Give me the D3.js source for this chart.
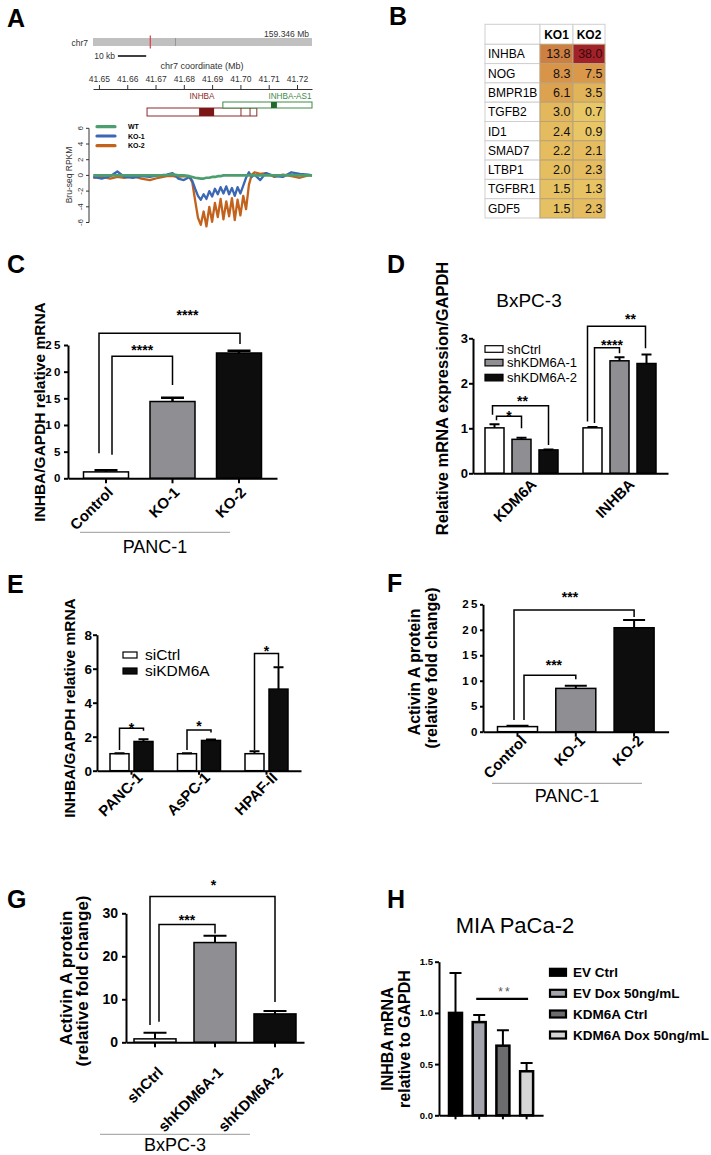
<!DOCTYPE html>
<html>
<head>
<meta charset="utf-8">
<script src="https://cdn.jsdelivr.net/npm/d3@7"></script>
<style>
  body { margin: 0; background: #fff; }
  svg text { font-family: "Liberation Sans", Arial, sans-serif; }
</style>
</head>
<body>
<svg id="fig" width="711" height="1155"></svg>
<script>
// ---------- A: Bru-seq around INHBA ----------
var aTicks = [41.65, 41.66, 41.67, 41.68, 41.69, 41.70, 41.71, 41.72];
var aPos = [41.648, 41.651, 41.654, 41.6565, 41.659, 41.662, 41.665, 41.668, 41.671, 41.674, 41.676, 41.678, 41.680, 41.682,
  41.683, 41.684, 41.685, 41.686, 41.687, 41.688, 41.689, 41.690, 41.691, 41.692, 41.693, 41.694, 41.695, 41.696,
  41.697, 41.698, 41.699, 41.700, 41.701, 41.702, 41.703, 41.704, 41.705,
  41.707, 41.709, 41.712, 41.715, 41.718, 41.721, 41.724, 41.7253];
var aWT = [0, 0, 0, 0, 0, 0, 0, 0, 0, 0.05, 0.15, 0, 0, -0.1,
  -0.2, -0.3, -0.35, -0.4, -0.4, -0.3, -0.3, -0.2, -0.2, -0.1, -0.1, 0, 0, 0, 0, 0, 0, 0, 0, 0, 0, 0, 0,
  0, 0, 0, 0, 0.05, 0, 0, 0];
var aKO1 = [-0.2, -0.4, -0.1, 0.5, -0.2, -0.3, -0.1, -0.2, 0.0, 0.1, 0.3, -0.4, -0.6, -0.2,
  -0.7, -1.7, -2.6, -3.1, -2.4, -3.0, -2.0, -2.7, -1.7, -2.4, -1.5, -2.3, -1.4, -2.4, -1.6, -2.6, -1.5, -2.3, -1.3, -0.3, 0.4, -0.2, 0.1,
  -0.6, 0.3, -0.1, -0.2, 0.4, 0.2, 0.1, 0];
var aKO2 = [-0.3, -0.2, -0.4, -0.2, -0.3, -0.1, -0.4, -0.6, -0.3, -0.1, -0.1, -0.2, -0.1, -0.2,
  -0.9, -3.2, -5.4, -6.3, -4.6, -6.5, -4.0, -5.9, -3.5, -5.3, -3.0, -5.6, -3.3, -5.2, -2.9, -5.7, -3.1, -5.1, -2.6, -4.3, -1.2, 0.1, 0.4,
  0.2, 0.3, -0.2, 0.1, -0.1, -0.3, 0.0, 0];
var aGeneName = ["INHBA", "INHBA-AS1"];
var aGeneStart = [41.6670, 41.6938];
var aGeneEnd = [41.7058, 41.7253];
var aBlockStart = [41.6854, 41.7108];
var aBlockEnd = [41.6907, 41.7129];
var aExonEdges = [41.7002, 41.7034];
var chrLen = 159.346, chrCen = 60.0, chrMark = 41.69, scaleBarStart = 41.6567;

// ---------- B: fold change table ----------
var bGenes = ["INHBA", "NOG", "BMPR1B", "TGFB2", "ID1", "SMAD7", "LTBP1", "TGFBR1", "GDF5"];
var bKO1 = [13.8, 8.3, 6.1, 3.0, 2.4, 2.2, 2.0, 1.5, 1.5];
var bKO2 = [38.0, 7.5, 3.5, 0.7, 0.9, 2.1, 2.3, 1.3, 2.3];

// ---------- C ----------
var cGroups = ["Control", "KO-1", "KO-2"];
var cMean = [1.2, 14.4, 23.5];
var cSem = [0.3, 0.7, 0.4];

// ---------- D ----------
var dGenes = ["KDM6A", "INHBA"];
var dSeries = ["shCtrl", "shKDM6A-1", "shKDM6A-2"];
var dKDM6A = [1.01, 0.755, 0.52];
var dKDM6AErr = [0.08, 0.035, 0.01];
var dINHBA = [1.01, 2.50, 2.44];
var dINHBAErr = [0.02, 0.08, 0.2];

// ---------- E ----------
var eLines = ["PANC-1", "AsPC-1", "HPAF-II"];
var eSeries = ["siCtrl", "siKDM6A"];
var eCtrl = [1.0, 1.0, 1.0];
var eCtrlErr = [0.03, 0.03, 0.15];
var eKD = [1.72, 1.78, 4.8];
var eKDErr = [0.13, 0.05, 1.28];

// ---------- F ----------
var fGroups = ["Control", "KO-1", "KO-2"];
var fMean = [1.0, 8.5, 20.4];
var fSem = [0.15, 0.5, 1.5];

// ---------- G ----------
var gGroups = ["shCtrl", "shKDM6A-1", "shKDM6A-2"];
var gMean = [0.8, 23.2, 6.6];
var gSem = [1.4, 1.6, 0.7];

// ---------- H ----------
var hGroups = ["EV Ctrl", "EV Dox 50ng/mL", "KDM6A Ctrl", "KDM6A Dox 50ng/mL"];
var hMean = [1.0, 0.91, 0.68, 0.43];
var hSem = [0.39, 0.07, 0.15, 0.08];

var fill3 = ["#ffffff", "#8f8e93", "#0d0d0d"];
var fill2 = ["#ffffff", "#0d0d0d"];
var fillH = ["#000000", "#a3a3ab", "#6c6c6e", "#d6d6d6"];

var svg = d3.select("#fig");
svg.append("rect").attr("width", 711).attr("height", 1155).attr("fill", "#fff");

function txt(g, x, y, s, size, bold, anchor, fill) {
  return g.append("text").attr("x", x).attr("y", y)
    .attr("font-size", size)
    .attr("font-weight", bold ? "bold" : "normal")
    .attr("text-anchor", anchor || "start")
    .attr("fill", fill || "#000")
    .text(s);
}
function vtxt(g, x, y, s, size, bold) {
  return g.append("text").attr("transform", "translate(" + x + "," + y + ") rotate(-90)")
    .attr("text-anchor", "middle").attr("font-size", size)
    .attr("font-weight", bold === false ? "normal" : "bold").text(s);
}
function bandFrom(dom, x0, c0, step, w) {
  var p = 1 - w / step, q = (c0 - w / 2 - x0) / step;
  return d3.scaleBand().domain(dom)
    .range([x0, x0 + step * (dom.length - p + 2 * q)])
    .paddingInner(p).paddingOuter(q);
}
function leftAxis(g, y, x0, ticks, fmt, fs, ls, tick, pad) {
  var a = g.append("g").attr("transform", "translate(" + x0 + ",0)")
    .call(d3.axisLeft(y).tickValues(ticks).tickFormat(fmt).tickSize(tick).tickPadding(pad).tickSizeOuter(0));
  a.select(".domain").attr("stroke-width", 2);
  a.selectAll(".tick line").attr("stroke-width", 2);
  a.selectAll(".tick text").attr("fill", "#000").attr("font-size", fs).attr("font-weight", "bold").attr("letter-spacing", ls);
  return a;
}
function bottomAxis(g, x, y0, tick) {
  var a = g.append("g").attr("transform", "translate(0," + y0 + ")")
    .call(d3.axisBottom(x).tickSize(tick).tickSizeOuter(0).tickFormat(""));
  a.select(".domain").attr("stroke-width", 2);
  a.selectAll(".tick line").attr("stroke-width", 2);
  return a;
}
function rotLabels(g, x, y0, cats, dx, dy, fs) {
  g.selectAll(null).data(cats).enter().append("text")
    .attr("transform", function (d) { return "translate(" + (x(d) + x.bandwidth() / 2 + dx) + "," + (y0 + dy) + ") rotate(-45)"; })
    .attr("text-anchor", "end").attr("font-size", fs).attr("font-weight", "bold").text(function (d) { return d; });
}
// rows: {x, w, v, e, fill, cap}
function drawBars(g, rows, y, sw, ew) {
  g.selectAll(null).data(rows).enter().append("rect")
    .attr("x", function (d) { return d.x; }).attr("width", function (d) { return d.w; })
    .attr("y", function (d) { return y(d.v); })
    .attr("height", function (d) { return y(0) - y(d.v); })
    .attr("fill", function (d) { return d.fill; })
    .attr("stroke", "#000").attr("stroke-width", sw);
  g.selectAll(null).data(rows).enter().append("path")
    .attr("d", function (d) {
      var cx = d.x + d.w / 2;
      return "M" + cx + "," + y(d.v) + "V" + y(d.v + d.e) +
        "M" + (cx - d.cap / 2) + "," + y(d.v + d.e) + "H" + (cx + d.cap / 2);
    })
    .attr("fill", "none").attr("stroke", "#000").attr("stroke-width", ew || 2);
}
function bracket(g, xa, xb, y, top, aEnd, bEnd, lab, ly, fs, lx) {
  g.append("path").attr("d", "M" + xa + "," + y(aEnd) + "V" + y(top) + "H" + xb + "V" + y(bEnd))
    .attr("fill", "none").attr("stroke", "#000").attr("stroke-width", 1.5);
  txt(g, (xa + xb) / 2 + (lx || 0), y(ly) + fs * 0.58, lab, fs, true, "middle");
}
function groupLine(g, x1, x2, yl, label, ty) {
  g.append("line").attr("x1", x1).attr("x2", x2).attr("y1", yl).attr("y2", yl)
    .attr("stroke", "#9a9a9a").attr("stroke-width", 1);
  txt(g, (x1 + x2) / 2, ty, label, 18, false, "middle");
}

// panel letters
[["A", 7, 27], ["B", 389, 25], ["C", 7, 273], ["D", 387, 273],
 ["E", 7, 593], ["F", 387, 592], ["G", 7, 908], ["H", 387, 908]].forEach(function (p) {
  txt(svg, p[1], p[2], p[0], 25, true);
});

// ===== A =====
(function () {
  var g = svg.append("g");
  var x = d3.scaleLinear().domain([41.6479, 41.7253]).range([93, 312]);
  var chr = d3.scaleLinear().domain([0, chrLen]).range([93, 312]);
  g.append("rect").attr("x", 93).attr("y", 38).attr("width", 219).attr("height", 8).attr("fill", "#c0c0c0");
  g.append("line").attr("x1", chr(chrCen)).attr("x2", chr(chrCen)).attr("y1", 38).attr("y2", 46)
    .attr("stroke", "#8a8a8a").attr("stroke-width", 0.8);
  g.append("line").attr("x1", chr(chrMark)).attr("x2", chr(chrMark)).attr("y1", 35.5).attr("y2", 48.5)
    .attr("stroke", "#e23a3f").attr("stroke-width", 1.2);
  txt(g, 88, 46, "chr7", 8.5, false, "end", "#333");
  txt(g, 309, 37, "159.346 Mb", 8.5, false, "end", "#333");
  g.append("line").attr("x1", x(scaleBarStart)).attr("x2", x(scaleBarStart + 0.01)).attr("y1", 56).attr("y2", 56)
    .attr("stroke", "#000").attr("stroke-width", 1.5);
  txt(g, 115, 59, "10 kb", 8.5, false, "end", "#333");
  txt(g, 202, 69, "chr7 coordinate (Mb)", 9, false, "middle", "#333");
  var ax = g.append("g").attr("transform", "translate(0,89)")
    .call(d3.axisTop(x).tickValues(aTicks).tickFormat(d3.format(".2f")).tickSize(4).tickPadding(3).tickSizeOuter(0));
  ax.selectAll("path,line").attr("stroke", "#333");
  ax.selectAll("text").attr("font-size", 8.5).attr("fill", "#333");

  var geneCol = ["#8b2b2b", "#3f8a46"], blockCol = ["#7b1717", "#1e6b2c"];
  var geneY = [108, 102], geneH = [8, 6];
  aGeneName.forEach(function (n, i) {
    g.append("rect").attr("x", x(aGeneStart[i])).attr("y", geneY[i])
      .attr("width", x(aGeneEnd[i]) - x(aGeneStart[i])).attr("height", geneH[i])
      .attr("fill", "#fff").attr("stroke", geneCol[i]).attr("stroke-width", 1);
    g.append("rect").attr("x", x(aBlockStart[i])).attr("y", geneY[i])
      .attr("width", x(aBlockEnd[i]) - x(aBlockStart[i])).attr("height", geneH[i])
      .attr("fill", blockCol[i]);
  });
  aExonEdges.forEach(function (p) {
    g.append("line").attr("x1", x(p)).attr("x2", x(p)).attr("y1", 108).attr("y2", 116)
      .attr("stroke", geneCol[0]).attr("stroke-width", 1);
  });
  txt(g, 202, 99, aGeneName[0], 8.2, false, "middle", geneCol[0]);
  txt(g, 290, 99, aGeneName[1], 8.2, false, "middle", geneCol[1]);

  var y = d3.scaleLinear().domain([-6, 6]).range([222.5, 128.3]);
  g.append("line").attr("x1", 89).attr("x2", 89).attr("y1", y(6)).attr("y2", y(-6)).attr("stroke", "#333");
  [6, 4, 2, 0, -2, -4, -6].forEach(function (t) {
    g.append("line").attr("x1", 86).attr("x2", 89).attr("y1", y(t)).attr("y2", y(t)).attr("stroke", "#333");
    g.append("text").attr("transform", "translate(83," + y(t) + ") rotate(-90)")
      .attr("text-anchor", "middle").attr("font-size", 8).attr("fill", "#333").text(t);
  });
  vtxt(g, 71.5, 175, "Bru-seq RPKM", 8.5, false).attr("fill", "#333");

  var line = d3.line().x(function (d, i) { return x(aPos[i]); }).y(function (d) { return y(d); });
  var series = [[aKO2, "#c2621d", 2.3], [aKO1, "#3b67b3", 2.3], [aWT, "#4c9e6e", 2.7]];
  series.forEach(function (s) {
    g.append("path").datum(s[0]).attr("d", line).attr("fill", "none")
      .attr("stroke", s[1]).attr("stroke-width", s[2]).attr("stroke-linejoin", "round");
  });
  var leg = [["WT", "#4c9e6e", 126.7], ["KO-1", "#3b67b3", 136], ["KO-2", "#c2621d", 145.7]];
  leg.forEach(function (l) {
    g.append("line").attr("x1", 97).attr("x2", 115).attr("y1", l[2]).attr("y2", l[2])
      .attr("stroke", l[1]).attr("stroke-width", 3.2).attr("stroke-linecap", "round");
    txt(g, 128, l[2] + 2.5, l[0], 7, true);
  });
})();

// ===== B =====
(function () {
  var g = svg.append("g");
  var cols = [485, 540, 573, 605];
  var top = 24.3, hh = 20, rh = 19.3;
  var col = d3.scaleLinear().domain([0.7, 3, 8, 38]).range(["#e8c766", "#e3b75c", "#d99548", "#a1222a"]);
  ["", "KO1", "KO2"].forEach(function (h, j) {
    g.append("rect").attr("x", cols[j]).attr("y", top).attr("width", cols[j + 1] - cols[j]).attr("height", hh)
      .attr("fill", "#fff").attr("stroke", "#cfcfcf");
    if (h) txt(g, (cols[j] + cols[j + 1]) / 2, top + 14.5, h, 12, true, "middle");
  });
  bGenes.forEach(function (gn, i) {
    var ry = top + hh + i * rh;
    g.append("rect").attr("x", cols[0]).attr("y", ry).attr("width", cols[1] - cols[0]).attr("height", rh)
      .attr("fill", "#fff").attr("stroke", "#cfcfcf");
    txt(g, cols[0] + 3, ry + 14, gn, 12, false);
    [bKO1[i], bKO2[i]].forEach(function (v, j) {
      g.append("rect").attr("x", cols[j + 1]).attr("y", ry).attr("width", cols[j + 2] - cols[j + 1]).attr("height", rh)
        .attr("fill", col(v)).attr("stroke", "#b9a27a");
      txt(g, cols[j + 2] - 2.5, ry + 14, v.toFixed(1), 12.5, false, "end", v > 30 ? "#3a0808" : "#111");
    });
  });
})();

// ===== C =====
(function () {
  var g = svg.append("g");
  var x = bandFrom(cGroups, 68, 106, 66.5, 45);
  var cx = function (d) { return x(d) + x.bandwidth() / 2; };
  var y = d3.scaleLinear().domain([0, 25]).range([478.3, 345]);
  drawBars(g, cGroups.map(function (c, i) {
    return {x: x(c), w: x.bandwidth(), v: cMean[i], e: cSem[i], fill: fill3[i], cap: 23};
  }), y, 1.5, 2.5);
  leftAxis(g, y, 68, [0, 5, 10, 15, 20, 25], d3.format("d"), 11.5, 2.5, 4, 1);
  bottomAxis(g, x, 478.3, 5);
  rotLabels(g, x, 478.3, cGroups, 8, 15, 15);
  vtxt(g, 45, 412, "INHBA/GAPDH relative mRNA", 15.5);
  bracket(g, cx("Control") + 6, cx("KO-1"), y, 22.9, 4.4, 17.5, "****", 24.6, 14, 0);
  bracket(g, cx("Control") - 7, cx("KO-2") + 1, y, 27.2, 4.7, 25.2, "****", 31.2, 14, 18);
  groupLine(g, 80, 230, 532.3, "PANC-1", 552.7);
})();

// ===== D =====
(function () {
  var g = svg.append("g");
  var x = bandFrom(dGenes, 473, 521.5, 98, 81);
  var xi = d3.scaleBand().domain(dSeries).range([0, 81]).paddingInner(8 / 27).paddingOuter(4 / 27);
  var y = d3.scaleLinear().domain([0, 3]).range([473.3, 338.3]);
  var vals = [dKDM6A, dINHBA], errs = [dKDM6AErr, dINHBAErr];
  var rows = [];
  dGenes.forEach(function (gn, gi) {
    dSeries.forEach(function (s, si) {
      rows.push({x: x(gn) + xi(s), w: xi.bandwidth(), v: vals[gi][si], e: errs[gi][si], fill: fill3[si], cap: 10});
    });
  });
  drawBars(g, rows, y, 1.5, 2);
  leftAxis(g, y, 473, [0, 1, 2, 3], d3.format("d"), 13, 0, 4, 1);
  bottomAxis(g, x, 473.3, 0);
  rotLabels(g, x, 473.3, dGenes, 16, 12, 15);
  vtxt(g, 448, 398.5, "Relative mRNA expression/GAPDH", 16.5);
  txt(g, 529, 306.5, "BxPC-3", 19, false, "middle");
  var bx = function (gn, s) { return x(gn) + xi(s) + xi.bandwidth() / 2; };
  bracket(g, bx("KDM6A", "shCtrl") + 2, bx("KDM6A", "shKDM6A-1"), y, 1.27, 1.18, 1.0, "*", 1.34, 14, 0);
  bracket(g, bx("KDM6A", "shCtrl") - 2, bx("KDM6A", "shKDM6A-2"), y, 1.50, 1.30, 0.63, "**", 1.67, 14, 2);
  bracket(g, bx("INHBA", "shCtrl") + 2, bx("INHBA", "shKDM6A-1"), y, 2.79, 1.12, 2.67, "****", 2.92, 14, 5);
  bracket(g, bx("INHBA", "shCtrl") - 5, bx("INHBA", "shKDM6A-2") - 1, y, 3.27, 1.15, 2.78, "**", 3.5, 14, 14);
  var ly = [349, 362.6, 377.6];
  dSeries.forEach(function (s, i) {
    g.append("rect").attr("x", 485).attr("y", ly[i] - 3.3).attr("width", 18).attr("height", 6.6)
      .attr("fill", fill3[i]).attr("stroke", "#000").attr("stroke-width", 1.2);
    txt(g, 507, ly[i] + 4.6, s, 13, false);
  });
})();

// ===== E =====
(function () {
  var g = svg.append("g");
  var x = bandFrom(eLines, 97, 131.5, 67.5, 48);
  var xi = d3.scaleBand().domain(eSeries).range([0, 48]).paddingInner(5 / 24).paddingOuter(2.5 / 24);
  var y = d3.scaleLinear().domain([0, 8]).range([770.7, 634.7]);
  var vals = [eCtrl, eKD], errs = [eCtrlErr, eKDErr];
  var rows = [];
  eLines.forEach(function (ln, li) {
    eSeries.forEach(function (s, si) {
      rows.push({x: x(ln) + xi(s), w: xi.bandwidth(), v: vals[si][li], e: errs[si][li], fill: fill2[si], cap: 10});
    });
  });
  drawBars(g, rows, y, 1.5, 2);
  leftAxis(g, y, 97, [0, 2, 4, 6, 8], d3.format("d"), 13.5, 0, 4, 1);
  bottomAxis(g, x, 770.7, 4);
  rotLabels(g, x, 770.7, eLines, 12, 8, 15);
  vtxt(g, 75, 708, "INHBA/GAPDH relative mRNA", 15.5);
  var bx = function (ln, s) { return x(ln) + xi(s) + xi.bandwidth() / 2; };
  bracket(g, bx("PANC-1", "siCtrl"), bx("PANC-1", "siKDM6A"), y, 2.49, 1.22, 2.35, "*", 2.69, 14, 0);
  bracket(g, bx("AsPC-1", "siCtrl"), bx("AsPC-1", "siKDM6A"), y, 2.39, 1.22, 2.25, "*", 2.8, 14, 0);
  bracket(g, bx("HPAF-II", "siCtrl"), bx("HPAF-II", "siKDM6A"), y, 6.9, 1.22, 6.12, "*", 7.2, 14, 0);
  var ly = [655, 671];
  eSeries.forEach(function (s, i) {
    g.append("rect").attr("x", 123).attr("y", ly[i] - 3).attr("width", 14).attr("height", 6)
      .attr("fill", fill2[i]).attr("stroke", "#000").attr("stroke-width", 1.2);
    txt(g, 145, ly[i] + 5, s, 15.5, false);
  });
})();

// ===== F =====
(function () {
  var g = svg.append("g");
  var x = bandFrom(fGroups, 483, 517.5, 58.3, 40);
  var cx = function (d) { return x(d) + x.bandwidth() / 2; };
  var y = d3.scaleLinear().domain([0, 25]).range([731.7, 604.3]);
  drawBars(g, fGroups.map(function (c, i) {
    return {x: x(c), w: x.bandwidth(), v: fMean[i], e: fSem[i], fill: fill3[i], cap: 22};
  }), y, 1.5, 2);
  leftAxis(g, y, 483, [0, 5, 10, 15, 20, 25], d3.format("d"), 11.5, 2.5, 3, 0);
  bottomAxis(g, x, 731.7, 5);
  rotLabels(g, x, 731.7, fGroups, 10, 10, 15);
  vtxt(g, 420, 672, "Activin A protein", 16);
  vtxt(g, 437, 668, "(relative fold change)", 16);
  bracket(g, cx("Control") + 6.5, cx("KO-1"), y, 11.07, 2.29, 10.3, "***", 13.7, 14, 4);
  bracket(g, cx("Control") - 3.5, cx("KO-2"), y, 23.9, 2.29, 22.5, "***", 27.1, 14, -4);
  groupLine(g, 492, 642, 783.3, "PANC-1", 802.3);
})();

// ===== G =====
(function () {
  var g = svg.append("g");
  var x = bandFrom(gGroups, 126, 155, 60, 42);
  var cx = function (d) { return x(d) + x.bandwidth() / 2; };
  var y = d3.scaleLinear().domain([0, 30]).range([1042.3, 913.3]);
  drawBars(g, gGroups.map(function (c, i) {
    return {x: x(c), w: x.bandwidth(), v: gMean[i], e: gSem[i], fill: fill3[i], cap: 23};
  }), y, 1.5, 2);
  leftAxis(g, y, 126, [0, 10, 20, 30], d3.format("d"), 14, 0, 4, 4);
  bottomAxis(g, x, 1042.3, 5);
  rotLabels(g, x, 1042.3, gGroups, 9, 31, 15);
  vtxt(g, 71.5, 978, "Activin A protein", 17);
  vtxt(g, 87.5, 981, "(relative fold change)", 17);
  bracket(g, cx("shCtrl") + 4, cx("shKDM6A-1"), y, 27.4, 4.8, 25.3, "***", 29.1, 14, 0);
  bracket(g, cx("shCtrl") - 5, cx("shKDM6A-2"), y, 33.9, 4.0, 9.4, "*", 37.3, 14, 1);
  groupLine(g, 100, 250, 1134.3, "BxPC-3", 1151.3);
})();

// ===== H =====
(function () {
  var g = svg.append("g");
  var x = bandFrom(hGroups, 439, 455.5, 23.7, 13);
  var cx = function (d) { return x(d) + x.bandwidth() / 2; };
  var y = d3.scaleLinear().domain([0, 1.5]).range([1115.3, 961.7]);
  drawBars(g, hGroups.map(function (c, i) {
    return {x: x(c), w: x.bandwidth(), v: hMean[i], e: hSem[i], fill: fillH[i], cap: 12};
  }), y, 2.5, 2);
  leftAxis(g, y, 439, [0, 0.5, 1.0, 1.5], d3.format(".1f"), 9.5, 0, 4, 2);
  bottomAxis(g, x, 1115.3, 4);
  txt(g, 515, 933, "MIA PaCa-2", 22, false, "middle");
  vtxt(g, 393, 1039, "INHBA mRNA", 16);
  vtxt(g, 410, 1039, "relative to GAPDH", 16);
  var sy = y(1.137);
  g.append("line").attr("x1", cx("EV Dox 50ng/mL") - 3).attr("x2", cx("KDM6A Dox 50ng/mL") + 1.5)
    .attr("y1", sy).attr("y2", sy).attr("stroke", "#000").attr("stroke-width", 2.2);
  txt(g, 505, y(1.235) + 7, "**", 12, false, "middle", "#555").attr("letter-spacing", 2);
  var ly = [972.3, 993.3, 1014, 1035];
  hGroups.forEach(function (s, i) {
    g.append("rect").attr("x", 550).attr("y", ly[i] - 3.5).attr("width", 16).attr("height", 7)
      .attr("fill", fillH[i]).attr("stroke", "#000").attr("stroke-width", 2.2);
    txt(g, 573, ly[i] + 5, s, 13.5, true);
  });
})();
</script>
</body>
</html>
